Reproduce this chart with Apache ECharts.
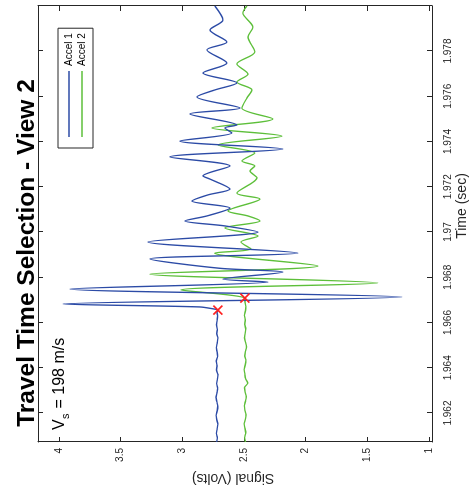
<!DOCTYPE html>
<html><head><meta charset="utf-8">
<script src="https://cdn.jsdelivr.net/npm/echarts@6/dist/echarts.min.js"></script>
<style>
html,body{margin:0;padding:0;width:474px;height:493px;overflow:hidden;background:#fff;}
#chart{position:absolute;left:0;top:0;width:493px;height:474px;transform-origin:0 0;transform:translate(0,493px) rotate(-90deg);}
</style></head><body><div id="chart"></div>
<script>
// ---- data ----
const titleText = 'Travel Time Selection - View 2';
const xName = 'Time (sec)';
const yName = 'Signal (Volts)';
const seriesNames = ['Accel 1', 'Accel 2'];
const timeTicks = [1.962, 1.964, 1.966, 1.968, 1.97, 1.972, 1.974, 1.976, 1.978];
const timeTickLabels = ['1.962', '1.964', '1.966', '1.968', '1.97', '1.972', '1.974', '1.976', '1.978'];
const signalTicks = [1, 1.5, 2, 2.5, 3, 3.5, 4];
const signalTickLabels = ['1', '1.5', '2', '2.5', '3', '3.5', '4'];
const timeRange = [1.96072, 1.97999];
const signalRange = [0.976, 4.17];

// Accel 1 : [time (s), signal (V)]
const accel1 = [
  [1.96072,2.722],[1.96090,2.716],[1.96110,2.724],[1.96130,2.718],[1.96150,2.712],[1.96170,2.721],
  [1.96190,2.726],[1.96210,2.717],[1.96230,2.713],[1.96250,2.720],[1.96270,2.727],[1.96290,2.719],
  [1.96310,2.714],[1.96330,2.722],[1.96350,2.716],[1.96370,2.711],[1.96390,2.723],[1.96410,2.719],
  [1.96430,2.725],[1.96450,2.714],[1.96470,2.718],[1.96490,2.724],[1.96510,2.717],[1.96530,2.712],
  [1.96550,2.721],[1.96570,2.716],[1.96590,2.723],[1.96610,2.718],[1.96630,2.714],[1.96645,2.719],
  [1.96655,2.712],[1.96660,2.745],[1.96669,2.860],[1.96682,3.968],[1.96713,1.220],[1.96748,3.911],
  [1.96779,2.306],[1.96792,2.671],[1.96823,2.185],[1.96840,2.700],[1.96881,3.263],[1.96907,2.063],
  [1.96956,3.279],[1.97000,2.387],[1.97027,2.655],[1.97049,2.979],[1.97071,2.801],[1.97106,2.614],
  [1.97137,2.922],[1.97164,2.793],[1.97190,2.614],[1.97234,2.776],[1.97248,2.833],[1.97292,2.614],
  [1.97332,3.100],[1.97367,2.185],[1.97402,3.019],[1.97438,2.598],[1.97460,2.655],[1.97473,2.558],
  [1.97522,2.938],[1.97548,2.533],[1.97597,2.882],[1.97628,2.736],[1.97659,2.558],[1.97703,2.833],
  [1.97747,2.639],[1.97805,2.801],[1.97840,2.639],[1.97893,2.776],[1.97937,2.671],[1.97999,2.736]
];
// Accel 2 : [time (s), signal (V)]
const accel2 = [
  [1.96072,2.488],[1.96092,2.495],[1.96112,2.486],[1.96132,2.492],[1.96152,2.499],[1.96172,2.489],
  [1.96192,2.484],[1.96212,2.493],[1.96232,2.497],[1.96252,2.488],[1.96272,2.482],[1.96292,2.491],
  [1.96312,2.496],[1.96332,2.470],[1.96352,2.487],[1.96372,2.493],[1.96392,2.499],[1.96412,2.490],
  [1.96432,2.485],[1.96452,2.494],[1.96472,2.489],[1.96492,2.480],[1.96512,2.487],[1.96532,2.496],
  [1.96552,2.491],[1.96572,2.486],[1.96592,2.494],[1.96612,2.490],[1.96632,2.497],[1.96652,2.488],
  [1.96672,2.485],[1.96690,2.492],[1.96708,2.493],[1.96744,3.011],[1.96775,1.415],[1.96814,3.263],
  [1.96850,1.901],[1.96907,2.738],[1.96925,2.444],[1.96956,2.525],[1.96982,2.387],[1.97018,2.655],
  [1.97049,2.371],[1.97071,2.468],[1.97093,2.630],[1.97146,2.371],[1.97172,2.558],[1.97239,2.395],
  [1.97270,2.452],[1.97292,2.412],[1.97314,2.517],[1.97349,2.412],[1.97385,2.712],[1.97424,2.193],
  [1.97460,2.760],[1.97500,2.266],[1.97548,2.517],[1.97592,2.477],[1.97628,2.436],[1.97663,2.558],
  [1.97698,2.468],[1.97743,2.558],[1.97796,2.412],[1.97862,2.468],[1.97906,2.428],[1.97968,2.509],
  [1.97999,2.477]
];
// picked arrival points
const arrivals = [[1.96655, 2.712], [1.96708, 2.493]];
const vsLabel = ['V', 's', ' = 198 m/s'];

// ---- chart ----
const FONT = "'Liberation Sans', Arial, Helvetica, sans-serif";
const AX = '#262626';
const chart = echarts.init(document.getElementById('chart'), null, {renderer: 'canvas'});
const lab = (ticks, labels) => v => { const i = ticks.findIndex(t => Math.abs(t - v) < 1e-9); return i >= 0 ? labels[i] : ''; };
const axisCommon = {
  type: 'value', scale: true,
  axisLine: {show: true, onZero: false, lineStyle: {color: AX, width: 1}},
  splitLine: {show: false}
};
const option = {
  animation: false,
  backgroundColor: '#fff',
  textStyle: {fontFamily: FONT},
  grid: {left: 51, right: 6, top: 38, bottom: 42, containLabel: false, outerBoundsMode: 'none'},
  legend: {
    data: seriesNames, orient: 'vertical', left: 345, top: 58, padding: [5, 5, 5, 11], itemGap: 1,
    itemWidth: 66, itemHeight: 1.6, icon: 'rect', backgroundColor: '#fff', borderColor: AX, borderWidth: 1,
    borderRadius: 0, selectedMode: false,
    textStyle: {fontSize: 10, lineHeight: 12, color: '#000', fontFamily: FONT}
  },
  xAxis: [
    Object.assign({}, axisCommon, {position: 'bottom', min: timeRange[0], max: timeRange[1],
      axisTick: {show: true, inside: true, length: 5, customValues: timeTicks, lineStyle: {color: AX}},
      axisLabel: {customValues: timeTicks, margin: 11, fontSize: 10, color: AX, fontFamily: FONT,
        formatter: lab(timeTicks, timeTickLabels)}}),
    Object.assign({}, axisCommon, {position: 'top', min: timeRange[0], max: timeRange[1],
      axisTick: {show: true, inside: true, length: 5, customValues: timeTicks, lineStyle: {color: AX}},
      axisLabel: {show: false}})
  ],
  yAxis: [
    Object.assign({}, axisCommon, {position: 'left', min: signalRange[0], max: signalRange[1],
      axisTick: {show: true, inside: true, length: 5, customValues: signalTicks, lineStyle: {color: AX}},
      axisLabel: {customValues: signalTicks, margin: 6, fontSize: 10, color: AX, fontFamily: FONT,
        formatter: lab(signalTicks, signalTickLabels)}}),
    Object.assign({}, axisCommon, {position: 'right', min: signalRange[0], max: signalRange[1],
      axisTick: {show: true, inside: true, length: 5, customValues: signalTicks, lineStyle: {color: AX}},
      axisLabel: {show: false}})
  ],
  series: [
    {name: seriesNames[0], type: 'line', data: accel1, showSymbol: false, symbol: 'none', smooth: 0.3,
      lineStyle: {color: '#2c4ba6', width: 1.4}, itemStyle: {color: '#2c4ba6'}, z: 3},
    {name: seriesNames[1], type: 'line', data: accel2, showSymbol: false, symbol: 'none', smooth: 0.3,
      lineStyle: {color: '#5dbf3a', width: 1.4}, itemStyle: {color: '#5dbf3a'}, z: 2},
    {name: 'arrival', type: 'scatter', data: arrivals, symbol: 'path://M0,0L10,10M10,0L0,10', symbolSize: 9,
      itemStyle: {color: 'rgba(0,0,0,0)', borderColor: '#ff2020', borderWidth: 1.6, opacity: 1}, z: 5}
  ],
  graphic: [
    {type: 'text', x: 240, y: 27, style: {text: titleText, font: 'bold 24.5px ' + FONT, fill: '#000', textAlign: 'center', textVerticalAlign: 'middle'}},
    {type: 'text', x: 15, y: 233, rotation: Math.PI / 2, style: {text: yName, font: '14px ' + FONT, fill: AX, textAlign: 'center', textVerticalAlign: 'middle'}},
    {type: 'text', x: 287, y: 462, style: {text: xName, font: '14px ' + FONT, fill: AX, textAlign: 'center', textVerticalAlign: 'middle'}},
    {type: 'text', x: 63, y: 60, style: {text: vsLabel[0], font: '16px ' + FONT, fill: '#000', textAlign: 'left', textVerticalAlign: 'middle'}},
    {type: 'text', x: 74, y: 66, style: {text: vsLabel[1], font: '11px ' + FONT, fill: '#000', textAlign: 'left', textVerticalAlign: 'middle'}},
    {type: 'text', x: 80, y: 60, style: {text: vsLabel[2], font: '16px ' + FONT, fill: '#000', textAlign: 'left', textVerticalAlign: 'middle'}}
  ]
};
chart.setOption(option);
</script></body></html>
